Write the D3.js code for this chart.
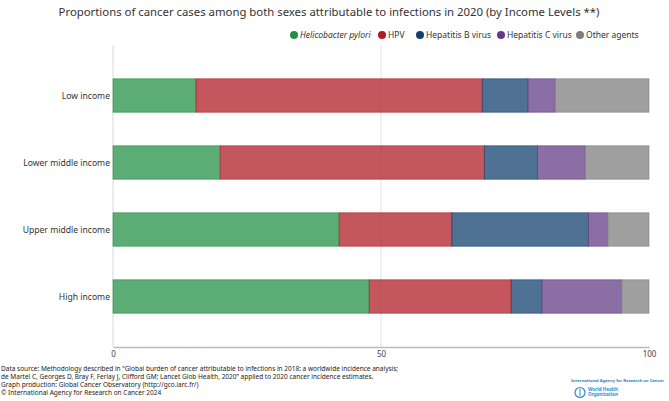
<!DOCTYPE html>
<html>
<head>
<meta charset="utf-8">
<script src="https://cdn.jsdelivr.net/npm/d3@7"></script>
<style>
  body { margin: 0; background: #fff; }
  svg { font-family: "Noto Sans", sans-serif; display: block; }
</style>
</head>
<body>
<div id="chart"></div>
<script>
var title = "Proportions of cancer cases among both sexes attributable to infections in 2020 (by Income Levels **)";

var categories = ["Low income", "Lower middle income", "Upper middle income", "High income"];
var agents = ["Helicobacter pylori", "HPV", "Hepatitis B virus", "Hepatitis C virus", "Other agents"];
var agentColors = ["#238f45", "#b01b24", "#113f6f", "#633b84", "#7e7e7e"];

// percent of infection-attributable cases, per income level
var hPylori = [15.5, 20.0, 42.2, 47.8];
var hpv     = [53.4, 49.3, 21.0, 26.5];
var hepB    = [8.5, 9.9, 25.5, 5.7];
var hepC    = [5.1, 8.9, 3.6, 14.9];
var other   = [17.5, 11.9, 7.7, 5.1];

var xTicks = [0, 50, 100];

var footer = [
  "Data source: Methodology described in \u201cGlobal burden of cancer attributable to infections in 2018: a worldwide incidence analysis;",
  "de Martel C, Georges D, Bray F, Ferlay J, Clifford GM; Lancet Glob Health, 2020\u201d applied to 2020 cancer incidence estimates.",
  "Graph production: Global Cancer Observatory (http://gco.iarc.fr/)",
  "\u00a9 International Agency for Research on Cancer 2024"
];

var width = 669, height = 401;
var margin = {top: 45, right: 20, bottom: 54, left: 113};
var plotBottom = height - margin.bottom;

var svg = d3.select("#chart").append("svg")
    .attr("width", width)
    .attr("height", height);

var x = d3.scaleLinear()
    .domain([0, 100])
    .range([margin.left, width - margin.right]);

var y = d3.scaleBand()
    .domain(categories)
    .range([62, 330])
    .paddingInner(0.5)
    .paddingOuter(0.25);

// title
svg.append("text")
    .attr("x", 329)
    .attr("y", 16)
    .attr("text-anchor", "middle")
    .attr("font-size", 11.35)
    .attr("fill", "#333")
    .text(title);

// legend
var legendX = [294, 382, 420, 501, 580];
var legend = svg.append("g").selectAll("g")
    .data(agents)
    .enter().append("g")
    .attr("transform", function(d, i) { return "translate(" + legendX[i] + ",35)"; });
legend.append("circle")
    .attr("r", 4)
    .attr("fill", function(d, i) { return agentColors[i]; });
legend.append("text")
    .attr("x", 6)
    .attr("dy", "0.35em")
    .attr("font-size", 8.5)
    .attr("fill", "#333")
    .attr("font-style", function(d, i) { return i === 0 ? "italic" : null; })
    .text(function(d) { return d; });

// gridlines
svg.append("g").selectAll("line")
    .data(xTicks)
    .enter().append("line")
    .attr("x1", function(d) { return x(d); })
    .attr("x2", function(d) { return x(d); })
    .attr("y1", margin.top)
    .attr("y2", plotBottom)
    .attr("stroke", function(d) { return d === 0 ? "#d8d8d8" : "#e4e4e4"; })
    .attr("stroke-width", function(d) { return d === 100 ? 0 : 1; });

// stacked bars
var series = [hPylori, hpv, hepB, hepC, other];
var rows = categories.map(function(c, j) {
  var row = {category: c};
  agents.forEach(function(a, i) { row[a] = series[i][j]; });
  return row;
});
var stack = d3.stack().keys(agents)(rows);

svg.append("g").selectAll("g")
    .data(stack)
    .enter().append("g")
    .attr("fill", function(d, i) { return agentColors[i]; })
    .attr("fill-opacity", 0.74)
    .attr("stroke", function(d, i) { return agentColors[i]; })
    .attr("stroke-opacity", 0.55)
  .selectAll("rect")
    .data(function(d) { return d; })
    .enter().append("rect")
    .attr("x", function(d) { return x(d[0]); })
    .attr("width", function(d) { return x(d[1]) - x(d[0]); })
    .attr("y", function(d) { return y(d.data.category); })
    .attr("height", y.bandwidth());

// category labels
svg.append("g").selectAll("text")
    .data(categories)
    .enter().append("text")
    .attr("x", margin.left - 3)
    .attr("y", function(d) { return y(d) + y.bandwidth() / 2; })
    .attr("dy", "0.35em")
    .attr("text-anchor", "end")
    .attr("font-size", 8.6)
    .attr("fill", "#333")
    .text(function(d) { return d; });

// x axis
var xAxis = svg.append("g")
    .attr("transform", "translate(0," + plotBottom + ")")
    .call(d3.axisBottom(x).tickValues(xTicks).tickSize(0).tickPadding(4));
xAxis.select(".domain").attr("stroke", "#bbb").attr("stroke-width", 1.5);
xAxis.selectAll("text")
    .attr("font-family", "Noto Sans, sans-serif")
    .attr("font-size", 8)
    .attr("fill", "#444");

// footer
svg.append("g").selectAll("text")
    .data(footer)
    .enter().append("text")
    .attr("x", 1)
    .attr("y", function(d, i) { return 371 + i * 8; })
    .attr("font-size", 6.5)
    .attr("fill", "#222")
    .text(function(d) { return d; });

// logos
svg.append("text")
    .attr("x", 571)
    .attr("y", 382)
    .attr("font-size", 3.9)
    .attr("font-weight", "bold")
    .attr("fill", "#2a7fc4")
    .attr("textLength", 93)
    .attr("lengthAdjust", "spacingAndGlyphs")
    .text("International Agency for Research on Cancer");
svg.append("circle")
    .attr("cx", 580)
    .attr("cy", 392.5)
    .attr("r", 5)
    .attr("fill", "none")
    .attr("stroke", "#2a8fd4")
    .attr("stroke-width", 1.2);
svg.append("line")
    .attr("x1", 580).attr("x2", 580)
    .attr("y1", 388.5).attr("y2", 396.5)
    .attr("stroke", "#2a8fd4");
svg.append("text")
    .attr("x", 588)
    .attr("y", 391)
    .attr("font-size", 4.6)
    .attr("font-weight", "bold")
    .attr("fill", "#2a8fd4")
    .text("World Health");
svg.append("text")
    .attr("x", 588)
    .attr("y", 396)
    .attr("font-size", 4.6)
    .attr("font-weight", "bold")
    .attr("fill", "#2a8fd4")
    .text("Organization");
</script>
</body>
</html>
